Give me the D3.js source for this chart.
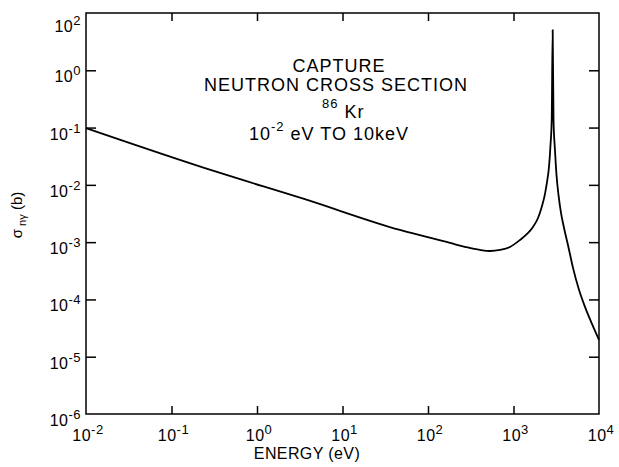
<!DOCTYPE html>
<html><head><meta charset="utf-8">
<script src="https://cdn.jsdelivr.net/npm/d3@7"></script>
<style>html,body{margin:0;padding:0;background:#fff;}svg{display:block;}</style>
</head><body>
<script>
// Data (energy in eV, cross section in barns)
const energy = [0.01, 0.34, 3.55, 47, 181, 270, 405, 531, 695, 910, 1191, 1439, 1691, 1935, 2155, 2336, 2466, 2600, 2709, 2798, 2872, 2938, 3055, 3184, 3359, 3594, 3899, 4335, 4966, 5834, 6855, 8279, 10000];
const sigma  = [0.098, 0.0168, 0.00568, 0.00163, 9.7e-4, 8.3e-4, 7.31e-4, 7.01e-4, 7.31e-4, 8.24e-4, 1.09e-3, 1.39e-3, 1.84e-3, 2.64e-3, 4.28e-3, 6.94e-3, 0.01124, 0.0205, 0.0497, 0.136, 5.05, 0.136, 0.0406, 0.0149, 6.67e-3, 3.24e-3, 1.77e-3, 8.93e-4, 3.55e-4, 1.47e-4, 7.4e-5, 3.73e-5, 1.96e-5];
const xTickValues = [1e-2, 1e-1, 1e0, 1e1, 1e2, 1e3, 1e4];
const xTickExp = ["-2", "-1", "0", "1", "2", "3", "4"];
const yTickValues = [1e-6, 1e-5, 1e-4, 1e-3, 1e-2, 1e-1, 1e0, 1e1];
const yTickExp = ["-6", "-5", "-4", "-3", "-2", "-1", "0", "2"];
const titleLines = ["CAPTURE", "NEUTRON CROSS SECTION"];

const W = 619, H = 467;
const L = 86, R = 599, T = 13, B = 414;
const font = "'Liberation Sans', Arial, sans-serif";

const svg = d3.select("body").append("svg").attr("width", W).attr("height", H)
  .style("font-family", font);

const x = d3.scaleLog().domain([1e-2, 1e4]).range([L, R]);
const y = d3.scaleLog().domain([1e-6, 1e1]).range([B, T]);

// frame
svg.append("rect").attr("x", L).attr("y", T).attr("width", R - L).attr("height", B - T)
  .attr("fill", "none").attr("stroke", "#000").attr("stroke-width", 1.5);

const inner = yTickValues.filter(v => v > 1e-6 && v < 1e1);
const innerX = xTickValues.filter(v => v > 1e-2 && v < 1e4);

// ticks (inward)
const axL = d3.axisRight(y).tickValues(inner).tickSize(10).tickFormat("");
const axR = d3.axisLeft(y).tickValues(inner).tickSize(10).tickFormat("");
const axB = d3.axisTop(x).tickValues(innerX).tickSize(8).tickFormat("");
const axT = d3.axisBottom(x).tickValues(innerX).tickSize(8).tickFormat("");
[[axL, `translate(${L},0)`], [axR, `translate(${R},0)`], [axB, `translate(0,${B})`], [axT, `translate(0,${T})`]]
  .forEach(([a, t]) => {
    const g = svg.append("g").attr("transform", t).call(a);
    g.select(".domain").remove();
    g.selectAll("line").attr("stroke", "#000").attr("stroke-width", 1.5);
  });

// y tick labels
yTickValues.forEach((v, i) => {
  const yy = y(v) + (v === 1e1 ? 19 : 12);
  const t = svg.append("text").attr("x", 81).attr("y", yy).attr("text-anchor", "end")
    .attr("font-size", 16).attr("letter-spacing", 0.5).attr("fill", "#000");
  t.append("tspan").text("10");
  t.append("tspan").attr("dy", -7).attr("font-size", 13).text(yTickExp[i]);
});

// x tick labels
xTickValues.forEach((v, i) => {
  const t = svg.append("text").attr("x", x(v) + 2).attr("y", 441).attr("text-anchor", "middle")
    .attr("font-size", 16).attr("letter-spacing", 0.5).attr("fill", "#000");
  t.append("tspan").text("10");
  t.append("tspan").attr("dy", -7).attr("font-size", 13).text(xTickExp[i]);
});

// axis titles
svg.append("text").attr("x", 307).attr("y", 459).attr("text-anchor", "middle")
  .attr("font-size", 16).attr("letter-spacing", 0.4).text("ENERGY (eV)");

const yl = svg.append("text").attr("transform", "translate(22,215) rotate(-90)")
  .attr("text-anchor", "middle").attr("font-size", 15);
yl.append("tspan").text("σ");
yl.append("tspan").attr("dy", 4).attr("font-size", 11).text(" nγ");
yl.append("tspan").attr("dy", -4).text(" (b)");

// title block
svg.append("text").attr("x", 339).attr("y", 72).attr("text-anchor", "middle").attr("font-size", 18).attr("letter-spacing", 1).text(titleLines[0]);
svg.append("text").attr("x", 336).attr("y", 91).attr("text-anchor", "middle").attr("font-size", 18).attr("letter-spacing", 1).text(titleLines[1]);
const kr = svg.append("text").attr("x", 322).attr("y", 118).attr("font-size", 18).attr("letter-spacing", 1);
kr.append("tspan").attr("font-size", 13).attr("dy", -10).text("86");
kr.append("tspan").attr("dy", 10).text(" Kr");
const l4 = svg.append("text").attr("x", 249).attr("y", 140).attr("font-size", 18).attr("letter-spacing", 1);
l4.append("tspan").text("10");
l4.append("tspan").attr("font-size", 13).attr("dy", -9).text("-2");
l4.append("tspan").attr("dy", 9).text(" eV  TO  10keV");

// curve
const pts = energy.map((e, i) => [e, sigma[i]]);
const line = d3.line().x(d => x(d[0])).y(d => y(d[1])).curve(d3.curveMonotoneX);
svg.append("path").datum(pts).attr("d", line).attr("fill", "none")
  .attr("stroke", "#000").attr("stroke-width", 1.8).attr("stroke-linejoin", "round");
</script>
</body></html>
